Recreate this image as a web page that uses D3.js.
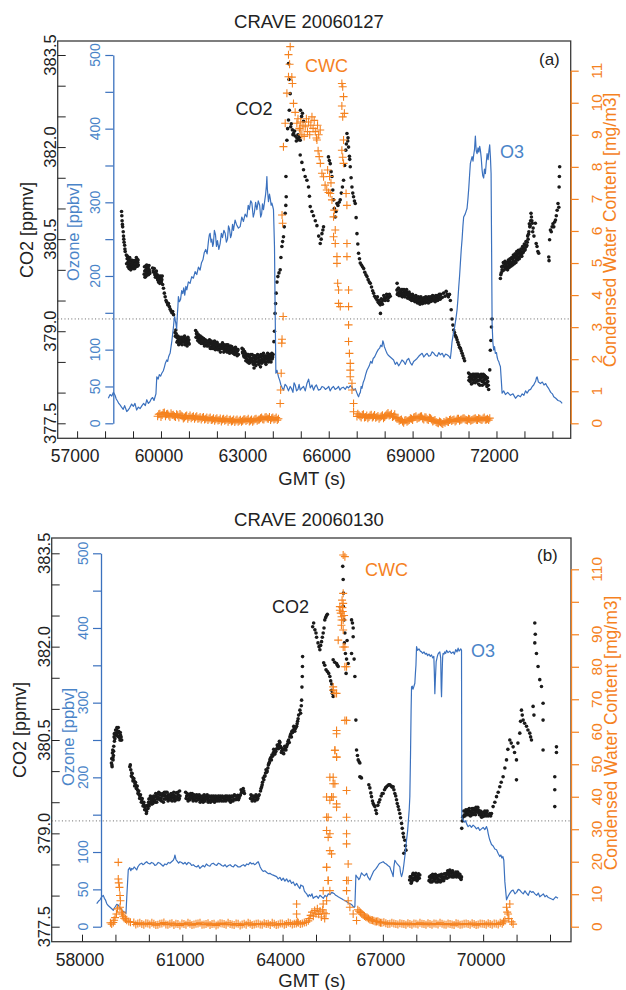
<!DOCTYPE html>
<html>
<head>
<meta charset="utf-8">
<script src="https://cdn.jsdelivr.net/npm/d3@7"></script>
<style>
  body { margin: 0; background: #fff; }
  svg text { font-family: "Liberation Sans", Arial, Helvetica, sans-serif; }
</style>
</head>
<body>
<div class="canvas"></div>
<script>
// ---------- data (time in GMT seconds) ----------
// flight 20060127 : CO2 [ppmv]
const co2A = [
 [58590,380.95],[58600,380.88],[58610,380.8],[58620,380.74],[58630,380.7],[58650,380.62],[58660,380.55],[58670,380.5],[58680,380.45],[58700,380.4],[58710,380.34],[58720,380.3],
 [58760,380.24],[58790,380.18],[58810,380.12],[58830,380.2],[58850,380.08],[58870,380.14],[58890,380.06],[58910,380.1],[58930,380.03],[58950,380.12],[58970,380.05],[58990,380.09],[59010,380.02],[59030,380.1],[59050,380.06],[59070,380.13],[59090,380.08],[59110,380.15],[59130,380.1],[59150,380.17],[59170,380.12],[59190,380.08],
 [59400,379.93],[59420,379.98],[59440,379.9],[59460,380.0],[59480,379.95],[59500,380.02],[59520,379.97],[59540,380.04],[59560,379.99],[59580,380.0],[59600,379.94],
 [59700,380.03],[59740,379.96],[59780,379.92],[59820,379.95],[59850,379.88],[59880,379.84],[59910,379.8],[59940,379.86],[59970,379.82],[60000,379.88],[60030,379.84],[60060,379.76],[60090,379.7],[60120,379.62],[60150,379.56],[60180,379.5],[60210,379.47],[60240,379.43],[60270,379.45],[60300,379.4],[60330,379.36],[60360,379.33],[60390,379.3],[60420,379.32],[60450,379.27],
 [60500,378.98],[60530,379.02],[60560,378.9],[60590,378.84],[60620,378.88],[60650,378.82],[60680,378.86],[60710,378.8],[60740,378.85],[60770,378.83],[60800,378.88],[60830,378.82],[60860,378.78],[60890,378.84],[60920,378.8],[60950,378.86],[60980,378.82],[61010,378.79],
 [61240,379.01],[61270,378.96],[61300,378.92],[61330,378.88],[61360,378.9],[61390,378.85],[61420,378.87],[61450,378.83],[61480,378.86],[61510,378.8],[61540,378.84],[61570,378.82],[61600,378.78],[61630,378.83],[61660,378.8],[61690,378.76],[61720,378.82],[61750,378.79],[61780,378.74],[61810,378.8],[61840,378.77],[61870,378.72],[61900,378.79],[61930,378.75],[61960,378.8],[61990,378.73],[62020,378.78],[62050,378.74],[62080,378.7],[62110,378.77],[62140,378.72],[62170,378.76],[62200,378.81],[62230,378.74],[62260,378.7],[62290,378.76],[62320,378.72],[62350,378.78],[62380,378.7],[62410,378.74],[62440,378.68],[62470,378.73],[62500,378.69],[62530,378.75],[62560,378.7],[62590,378.66],[62620,378.72],[62650,378.67],[62680,378.7],[62710,378.64],[62740,378.68],[62770,378.62],
 [62900,378.72],[62930,378.64],[62960,378.6],[62990,378.67],[63020,378.57],[63050,378.63],[63080,378.55],[63110,378.6],[63140,378.52],[63170,378.58],[63200,378.5],[63230,378.56],[63260,378.62],[63290,378.52],[63320,378.58],[63350,378.48],[63380,378.55],[63410,378.6],[63440,378.5],[63470,378.56],[63500,378.46],[63530,378.53],[63560,378.58],[63590,378.5],[63620,378.55],[63650,378.6],[63680,378.53],[63710,378.57],[63740,378.5],[63770,378.55],[63800,378.6],[63830,378.52],[63860,378.57],[63890,378.62],[63920,378.56],[63950,378.6],[63980,378.55],[64010,378.62],
 [64040,378.83],[64060,379.0],[64080,379.29],[64100,379.45],[64120,379.62],[64150,379.8],[64181,379.89],[64220,379.95],[64264,380.0],[64290,380.2],[64325,380.38],[64350,380.46],[64382,380.54],[64410,380.7],[64443,380.92],[64465,381.05],[64479,381.19],[64470,381.52],[64504,382.11],[64530,382.3],[64561,382.44],[64590,382.6],[64622,382.87],[64580,383.1],[64561,383.36],[64640,382.33],[64700,382.28],[64740,382.22],[64800,382.18],[64860,382.15],[64920,382.12],[64980,382.11],[64990,382.6],[65030,382.5],[65060,382.55],[65100,382.42],
 [64980,381.87],[65040,381.75],[65098,381.63],[65157,381.52],[65220,381.46],[65277,381.35],[65310,381.2],[65338,381.03],[65400,380.95],[65456,380.88],[65520,380.8],[65578,380.72],[65640,380.55],[65696,380.43],[65730,380.5],[65757,380.59],[65790,380.65],[65814,380.7],
 [65990,381.84],[66020,381.78],[66054,381.73],[66085,381.6],[66115,381.52],[66145,381.3],[66172,381.14],[66200,381.0],[66233,380.86],[66260,380.95],[66294,381.08],[66330,381.05],[66370,381.1],[66412,381.14],[66450,381.25],[66490,381.35],[66530,381.46],[66570,381.7],[66610,381.95],[66652,382.22],[66680,382.1],[66709,382.0],[66740,381.85],[66770,381.68],[66800,381.5],[66831,381.35],[66860,381.25],[66888,381.19],[66920,381.12],[66949,381.08],[66980,380.85],[67010,380.59],[67040,380.42],[67067,380.27],[67100,380.18],[67128,380.11],[67170,380.08],[67210,380.05],[67250,380.02],[67290,379.96],[67330,379.92],[67368,379.89],[67410,379.84],[67450,379.8],[67486,379.78],[67530,379.72],[67570,379.66],[67604,379.62],[67640,379.57],[67680,379.54],[67726,379.51],[67770,379.47],[67810,379.45],[67844,379.43],[67850,379.29],[67900,379.48],[67950,379.51],[68000,379.55],[68050,379.54],[68100,379.56],[68150,379.55],[68200,379.57],
 [68440,379.67],[68470,379.62],[68500,379.7],[68530,379.64],[68560,379.6],[68590,379.66],[68620,379.62],[68650,379.68],[68680,379.63],[68710,379.58],[68740,379.65],[68770,379.6],[68800,379.64],[68830,379.58],[68860,379.62],[68890,379.56],[68920,379.6],[68950,379.55],[68980,379.58],[69010,379.53],[69040,379.57],[69070,379.52],[69100,379.56],[69130,379.5],[69160,379.55],[69190,379.49],[69220,379.53],[69250,379.48],[69280,379.54],[69310,379.5],[69340,379.47],[69370,379.52],[69400,379.48],[69430,379.55],[69460,379.5],[69490,379.53],[69520,379.47],[69550,379.52],[69580,379.56],[69610,379.5],[69640,379.54],[69670,379.49],[69700,379.55],[69730,379.51],[69760,379.57],[69790,379.52],[69820,379.55],[69850,379.5],[69880,379.54],[69910,379.58],[69940,379.52],[69970,379.55],[70010,379.6],[70060,379.55],[70110,379.62],[70160,379.57],
 [70200,379.65],[70240,379.6],[70280,379.56],[70320,379.6],[70350,379.5],[70380,379.35],[70410,379.2],[70440,379.1],[70470,379.02],[70500,378.98],[70530,378.93],[70560,378.9],[70590,378.86],[70620,378.82],[70650,378.78],[70680,378.74],[70710,378.72],[70740,378.68],[70770,378.64],[70800,378.6],[70830,378.56],[70860,378.52],
 [71000,378.32],[71030,378.25],[71060,378.18],[71090,378.28],[71120,378.22],[71150,378.3],[71180,378.2],[71210,378.26],[71240,378.16],[71270,378.24],[71300,378.3],[71330,378.2],[71360,378.14],[71390,378.26],[71420,378.22],[71450,378.3],[71480,378.18],[71510,378.25],[71540,378.2],[71570,378.28],[71600,378.14],[71630,378.22],[71660,378.1],[71690,378.18],[71720,378.05],
 [71760,378.37],[71780,378.69],[71800,378.85],[71820,379.07],[71840,379.2],
 [72140,379.86],[72170,379.95],[72200,380.0],[72230,380.06],[72260,380.11],[72290,380.05],[72320,380.1],[72350,380.08],[72380,380.04],[72410,380.12],[72440,380.08],[72470,380.14],[72500,380.1],[72530,380.18],[72560,380.12],[72590,380.16],[72620,380.2],[72650,380.14],[72680,380.22],[72710,380.18],[72740,380.25],[72770,380.2],[72800,380.27],[72830,380.22],[72860,380.3],[72890,380.26],[72920,380.34],[72950,380.28],[72980,380.36],[73010,380.32],[73040,380.4],[73070,380.38],[73100,380.45],[73130,380.5],[73160,380.62],[73190,380.7],[73220,380.8],[73250,380.86],[73280,380.76],[73310,380.68],[73340,380.55],
 [73390,380.76],[73420,380.43],[73450,380.38],[73480,380.3],[73510,380.27],
 [73870,380.21],[73880,380.15],[73900,380.49],[73930,380.65],[73960,380.62],[73990,380.7],[74020,380.75],[74050,380.7],[74080,380.78],[74110,380.81],[74140,380.88],[74170,380.97],[74200,381.08],[74230,381.02],[74240,381.35],[74250,381.52],[74260,381.68]
];
// second layer of CO2 samples inside the dense clusters (20060127)
const co2AExtra = [
 [58770,380.1],[58800,380.22],[58820,380.05],[58840,380.16],[58860,380.02],[58880,380.2],[58900,380.13],[58920,380.0],[58940,380.16],[58960,380.08],[58980,380.15],[59000,380.12],[59020,380.06],[59040,380.15],[59060,380.02],[59080,380.1],[59100,380.05],[59120,380.2],[59140,380.14],[59160,380.06],[59180,380.16],
 [59410,380.05],[59430,379.88],[59450,380.06],[59470,379.9],[59490,380.08],[59510,379.92],[59530,380.0],[59550,379.92],[59570,380.07],[59590,379.96],
 [59720,379.98],[59760,380.02],[59800,379.88],[59835,379.98],[59865,379.92],[59895,379.86],[59925,379.9],[59955,379.78],[59985,379.9],[60015,379.8],[60045,379.9],
 [60515,378.92],[60545,378.96],[60575,378.82],[60605,378.92],[60635,378.78],[60665,378.9],[60695,378.84],[60725,378.9],[60755,378.78],[60785,378.9],[60815,378.86],[60845,378.92],[60875,378.8],[60905,378.88],[60935,378.76],[60965,378.9],[60995,378.86],
 [61255,378.9],[61285,378.98],[61315,378.85],[61345,378.94],[61375,378.82],[61405,378.92],[61435,378.8],[61465,378.9],[61495,378.84],[61525,378.88],[61555,378.76],[61585,378.86],[61615,378.84],[61645,378.76],[61675,378.84],[61705,378.78],[61735,378.86],[61765,378.72],[61795,378.84],[61825,378.72],[61855,378.82],[61885,378.74],[61915,378.84],[61945,378.7],[61975,378.78],[62005,378.82],[62035,378.7],[62065,378.78],[62095,378.74],[62125,378.66],[62155,378.78],[62185,378.72],[62215,378.76],[62245,378.66],[62275,378.78],[62305,378.68],[62335,378.74],[62365,378.66],[62395,378.78],[62425,378.72],[62455,378.64],[62485,378.76],[62515,378.66],[62545,378.72],[62575,378.64],[62605,378.7],[62635,378.62],[62665,378.74],[62695,378.68],[62725,378.6],[62755,378.7],
 [62915,378.66],[62945,378.7],[62975,378.58],[63005,378.64],[63035,378.52],[63065,378.6],[63095,378.5],[63125,378.62],[63155,378.48],[63185,378.54],[63215,378.62],[63245,378.5],[63275,378.56],[63305,378.46],[63330,378.4],[63335,378.6],[63365,378.52],[63395,378.44],[63425,378.56],[63455,378.62],[63485,378.5],[63515,378.6],[63545,378.5],[63560,378.42],[63575,378.62],[63605,378.48],[63635,378.52],[63665,378.64],[63695,378.5],[63725,378.6],[63755,378.46],[63785,378.58],[63815,378.64],[63845,378.5],[63875,378.54],[63905,378.6],[63935,378.5],[63965,378.64],[63995,378.58],
 [64660,382.38],[64720,382.2],[64780,382.26],[64840,382.1],[64900,382.2],[64950,382.16],[66630,382.05],[66690,382.15],[66750,381.8],
 [67740,379.56],[67790,379.5],[67830,379.48],[67880,379.53],[67920,379.44],[67970,379.58],[68020,379.5],[68070,379.6],[68120,379.5],[68170,379.6],
 [68445,379.78],[68455,379.6],[68485,379.7],[68515,379.58],[68545,379.66],[68575,379.58],[68605,379.68],[68635,379.56],[68665,379.6],[68695,379.68],[68725,379.56],[68755,379.6],[68785,379.68],[68815,379.54],[68845,379.6],[68875,379.64],[68905,379.52],[68935,379.58],[68965,379.5],[68995,379.6],[69025,379.5],[69055,379.56],[69085,379.48],[69115,379.58],[69145,379.52],[69175,379.46],[69205,379.56],[69235,379.5],[69265,379.44],[69295,379.56],[69325,379.52],[69355,379.45],[69385,379.54],[69415,379.5],[69445,379.46],[69475,379.56],[69505,379.5],[69535,379.55],[69565,379.46],[69595,379.54],[69625,379.48],[69655,379.56],[69685,379.5],[69715,379.58],[69745,379.5],[69775,379.54],[69805,379.48],[69835,379.58],[69865,379.52],[69895,379.5],[69925,379.56],[69955,379.6],[69985,379.52],
 [71015,378.2],[71045,378.3],[71075,378.22],[71105,378.14],[71135,378.26],[71165,378.16],[71195,378.3],[71225,378.22],[71255,378.3],[71285,378.18],[71315,378.26],[71345,378.3],[71375,378.2],[71405,378.12],[71435,378.24],[71465,378.26],[71495,378.12],[71525,378.3],[71555,378.16],[71585,378.22],[71615,378.26],[71645,378.16],[71675,378.24],[71705,378.12],
 [72155,379.92],[72185,380.05],[72215,379.98],[72245,380.12],[72275,380.0],[72305,380.14],[72335,380.02],[72365,380.12],[72395,380.0],[72425,380.16],[72455,380.04],[72485,380.18],[72515,380.06],[72545,380.2],[72575,380.08],[72605,380.24],[72635,380.1],[72665,380.26],[72695,380.12],[72725,380.3],[72755,380.16],[72785,380.32],[72815,380.18],[72845,380.24],[72875,380.34],[72905,380.22],[72935,380.38],[72965,380.3],[72995,380.42],[73025,380.34],[73055,380.46],[73085,380.4],[73115,380.55],[73145,380.58],[73175,380.75],[73205,380.72],[73235,380.92],[73265,380.8],[73295,380.62]
];
// flight 20060127 : ozone [ppbv]
const o3A = [
 [58117,34],[58180,39],[58240,37],[58300,42],[58357,38],[58400,33],[58450,30],[58490,27],[58536,25],[58590,22],[58650,19],[58700,24],[58776,16],[58830,18],[58880,21],[58950,26],[59012,23],[59070,27],[59130,18],[59190,22],[59252,20],[59320,24],[59380,27],[59440,24],[59492,32],[59550,27],[59600,29],[59650,33],[59700,35],[59750,31],[59789,36],[59820,40],[59850,63],[59900,60],[59940,66],[59985,64],[60029,68],[60080,71],[60120,76],[60160,82],[60208,86],[60240,84],[60270,90],[60300,93],[60326,95],[60360,104],[60390,112],[60420,122],[60444,130],[60470,141],[60490,145],[60510,140],[60530,136],[60560,128],[60590,150],[60605,158],[60623,172],[60660,165],[60700,168],[60740,180],[60780,176],[60815,184],[60850,174],[60890,186],[60924,181],[60980,192],[61040,190],[61100,199],[61160,197],[61220,206],[61280,202],[61340,212],[61400,208],[61450,218],[61500,222],[61550,232],[61600,236],[61650,230],[61700,248],[61730,256],[61758,258],[61790,246],[61820,250],[61850,240],[61876,244],[61910,262],[61950,256],[61985,240],[62020,248],[62070,236],[62116,244],[62160,258],[62200,252],[62250,262],[62295,258],[62340,246],[62380,250],[62415,268],[62450,264],[62490,252],[62520,256],[62560,270],[62592,262],[62650,276],[62700,270],[62770,265],[62832,267],[62890,280],[62950,274],[63010,284],[63072,280],[63120,296],[63160,290],[63210,302],[63251,299],[63300,280],[63340,286],[63385,300],[63430,290],[63480,302],[63530,296],[63565,280],[63600,284],[63630,298],[63666,290],[63710,302],[63740,310],[63770,322],[63788,335],[63805,318],[63820,312],[63845,301],[63880,311],[63910,305],[63940,296],[63967,299],[64000,294],[64024,290],[64060,240],[64085,149],[64110,68],[64150,72],[64203,63],[64250,58],[64290,52],[64340,48],[64382,45],[64440,53],[64500,50],[64560,44],[64622,50],[64670,47],[64720,42],[64760,55],[64800,52],[64850,44],[64900,46],[64940,53],[64980,45],[65040,48],[65100,50],[65160,44],[65220,54],[65280,60],[65340,48],[65400,52],[65456,45],[65510,50],[65560,52],[65630,45],[65700,46],[65760,50],[65820,49],[65880,46],[65936,47.5],[66000,50],[66050,44],[66110,48],[66170,50],[66230,46],[66294,47.5],[66350,50],[66400,45],[66460,48],[66520,49],[66590,46],[66652,50],[66710,48],[66770,51],[66830,49],[66888,45],[66950,47],[67010,41],[67040,38],[67067,36],[67100,40],[67130,42],[67160,50],[67189,47.5],[67230,55],[67280,60],[67320,66],[67368,72],[67410,75],[67450,78],[67500,84],[67547,81.5],[67590,88],[67640,90],[67690,94],[67726,97],[67770,100],[67820,102],[67860,106],[67905,104],[67935,112],[67962,109],[67990,104],[68020,101],[68050,98],[68084,95],[68140,92],[68200,90],[68260,88],[68320,86],[68380,80],[68440,83],[68500,78],[68560,81.5],[68620,86],[68680,84],[68740,80],[68800,86],[68860,88],[68920,82],[68980,79],[69036,84],[69100,86],[69160,88],[69220,91],[69276,93],[69340,95],[69400,90],[69460,93],[69516,95],[69580,91],[69640,92],[69700,97],[69760,95],[69820,92],[69880,91],[69940,96],[69992,93],[70060,95],[70120,90],[70180,94],[70232,93],[70300,91],[70350,88],[70380,98],[70411,111],[70460,122],[70500,130],[70550,142],[70590,154],[70620,168],[70650,185],[70680,200],[70708,217],[70740,236],[70770,250],[70800,268],[70826,280],[70880,284],[70948,292],[70980,305],[71010,320],[71040,338],[71066,353],[71100,358],[71127,362],[71160,356],[71184,364],[71215,372],[71245,390],[71275,370],[71306,366],[71340,374],[71370,368],[71400,376],[71424,371],[71455,360],[71485,344],[71510,336],[71542,333],[71570,345],[71603,339],[71630,352],[71664,366],[71700,358],[71730,370],[71757,378],[71785,360],[71807,339],[71825,240],[71843,136],[71870,110],[71900,99.5],[71930,104],[71960,95],[72000,96],[72022,90],[72050,86],[72080,84],[72110,80],[72140,77],[72170,60],[72201,41],[72260,44],[72320,39],[72400,42],[72498,38],[72590,40],[72680,34],[72770,38],[72856,36],[72920,40],[72980,38],[73040,44],[73096,41],[73160,45],[73220,46],[73280,50],[73332,52],[73370,55],[73400,57],[73430,62],[73454,63],[73500,56],[73572,54],[73640,56],[73700,52],[73760,54],[73812,50],[73870,47],[73940,42],[74000,40],[74048,36],[74120,34],[74200,31],[74280,30],[74349,27]
];
// flight 20060127 : condensed water content [mg/m3]
const cwcA = [
 [59880,0.22],[59960,0.3],[60040,0.26],[60120,0.34],[60200,0.28],[60280,0.24],[60360,0.31],[60440,0.27],[60520,0.2],[60600,0.25],[60680,0.29],[60760,0.22],[60840,0.18],[60920,0.24],[61000,0.2],[61080,0.16],[61160,0.22],[61240,0.19],[61320,0.14],[61400,0.2],[61480,0.17],[61560,0.12],[61640,0.18],[61720,0.15],[61800,0.1],[61880,0.16],[61960,0.13],[62040,0.09],[62120,0.15],[62200,0.12],[62280,0.08],[62360,0.14],[62440,0.1],[62520,0.06],[62600,0.12],[62680,0.09],[62760,0.05],[62840,0.11],[62920,0.08],[63000,0.13],[63080,0.1],[63160,0.06],[63240,0.12],[63320,0.09],[63400,0.14],[63480,0.11],[63560,0.16],[63640,0.13],[63720,0.18],[63800,0.15],[63880,0.2],[63960,0.16],[64040,0.12],[64120,0.18],[64200,0.14],
 [64264,0.62],[64280,1.04],[64300,1.56],[64320,2.5],[64330,2.62],[64370,3.33],[64330,6.5],[64350,6.24],[64380,8.63],[64443,9.36],[64504,10.3],[64561,10.81],[64622,11.75],[64561,11.5],[64600,11.2],[64680,10.8],[64700,10.6],[64740,9.98],[64800,9.7],[64860,9.36],[64900,9.5],[64950,9.2],[64980,9.15],[65000,9.4],[65040,9.0],[65080,9.3],[65120,8.95],[65160,9.25],[65200,9.5],[65240,9.1],[65280,9.4],[65320,9.0],[65360,9.3],[65400,9.56],[65440,9.2],[65480,9.45],[65520,9.1],[65560,8.9],[65600,9.3],[65640,9.0],[65696,9.15],[65578,8.84],[65620,8.5],[65660,8.32],[65700,8.11],[65757,7.8],[65814,7.69],[65870,7.43],[65930,7.28],[65993,7.2],[66054,7.17],[66115,6.97],[66080,7.5],[66030,7.7],[65960,7.9],[66172,6.44],[66200,6.65],[66233,6.03],[66172,5.82],[66233,5.61],[66294,5.2],[66294,4.99],[66320,4.37],[66351,4.16],[66351,3.74],[66412,3.64],
 [66470,10.6],[66500,10.5],[66530,10.19],[66470,9.9],[66500,9.56],[66560,9.67],[66530,8.84],[66470,8.52],[66530,8.11],[66500,8.3],[66620,7.17],[66650,6.8],[66652,5.61],[66652,5.2],[66709,4.16],[66709,3.64],[66709,3.07],[66709,2.55],[66740,2.18],[66770,1.87],[66770,1.66],[66770,1.45],[66831,1.25],[66831,1.04],[66888,0.62],[66888,0.36],[67010,0.21],
 [67040,0.3],[67120,0.22],[67200,0.26],[67280,0.18],[67360,0.24],[67440,0.2],[67520,0.27],[67600,0.21],[67680,0.17],[67760,0.23],[67840,0.19],[67920,0.25],[68000,0.2],[68080,0.28],[68160,0.24],[68240,0.3],[68320,0.22],[68400,0.18],[68480,0.14],[68560,0.1],[68640,0.06],[68720,0.09],[68800,0.05],[68880,0.1],[68960,0.14],[69040,0.18],[69120,0.22],[69200,0.17],[69280,0.21],[69360,0.15],[69440,0.19],[69520,0.13],[69600,0.17],[69680,0.12],[69760,0.08],[69840,0.04],[69920,0.0],[70000,0.03],[70080,-0.02],[70160,0.02],[70240,0.06],[70320,0.1],[70400,0.07],[70480,0.12],[70560,0.09],[70640,0.14],[70720,0.11],[70800,0.15],[70880,0.12],[70960,0.09],[71040,0.13],[71120,0.1],[71200,0.14],[71280,0.11],[71360,0.16],[71440,0.12],[71520,0.15],[71600,0.11],[71680,0.14],[71760,0.16]
];
const cwcAExtra = [
 [59920,0.28],[60000,0.2],[60080,0.32],[60160,0.22],[60240,0.3],[60320,0.2],[60400,0.26],[60480,0.22],[60560,0.28],[60640,0.18],[60720,0.24],[60800,0.15],[60880,0.22],[60960,0.14],[61040,0.24],[61120,0.2],[61200,0.14],[61280,0.22],[61360,0.16],[61440,0.12],[61520,0.2],[61600,0.14],[61680,0.1],[61760,0.18],[61840,0.12],[61920,0.08],[62000,0.16],[62080,0.1],[62160,0.06],[62240,0.14],[62320,0.1],[62400,0.05],[62480,0.12],[62560,0.08],[62640,0.04],[62720,0.12],[62800,0.08],[62880,0.05],[62960,0.12],[63040,0.07],[63120,0.14],[63200,0.09],[63280,0.05],[63360,0.13],[63440,0.08],[63520,0.12],[63600,0.18],[63680,0.12],[63760,0.2],[63840,0.14],[63920,0.1],[64000,0.18],[64080,0.14],[64160,0.1],
 [67080,0.26],[67160,0.18],[67240,0.28],[67320,0.2],[67400,0.16],[67480,0.24],[67560,0.18],[67640,0.26],[67720,0.2],[67800,0.14],[67880,0.22],[67960,0.16],[68040,0.24],[68120,0.32],[68200,0.26],[68280,0.2],[68360,0.28],[68440,0.14],[68520,0.08],[68600,0.12],[68680,0.02],[68760,0.1],[68840,0.08],[68920,0.16],[69000,0.1],[69080,0.2],[69160,0.14],[69240,0.18],[69320,0.22],[69400,0.12],[69480,0.18],[69560,0.1],[69640,0.16],[69720,0.06],[69800,0.1],[69880,0.02],[69960,0.06],[70040,0.0],[70120,0.04],[70200,0.08],[70280,0.04],[70360,0.12],[70440,0.1],[70520,0.06],[70600,0.14],[70680,0.08],[70760,0.12],[70840,0.16],[70920,0.1],[71000,0.14],[71080,0.08],[71160,0.12],[71240,0.16],[71320,0.1],[71400,0.14],[71480,0.1],[71560,0.18],[71640,0.12],[71720,0.1]
];

// flight 20060130 : CO2 [ppmv]
const co2B = [
 [58880,380.13],[58890,380.2],[58900,380.07],[58910,380.29],[58920,380.34],[58930,380.18],[58940,380.25],[58950,380.4],[58960,380.55],[58970,380.48],[58990,380.61],[59010,380.58],[59030,380.66],[59050,380.6],[59070,380.63],[59085,380.7],[59100,380.56],[59120,380.62],[59136,380.5],[59150,380.58],[59170,380.55],[59187,380.5],
 [59430,380.07],[59460,380.02],[59486,379.97],[59510,379.9],[59534,379.86],[59560,379.84],[59585,379.8],[59610,379.77],[59636,379.75],[59660,379.7],[59683,379.67],[59710,379.62],[59734,379.59],[59760,379.56],[59785,379.54],[59810,379.5],[59833,379.48],[59860,379.45],[59884,379.42],[59910,379.38],[59935,379.35],[59960,379.45],[59990,379.5],[60010,379.44],[60033,379.56],[60060,379.5],[60090,379.47],[60110,379.55],[60132,379.52],[60160,379.58],[60190,379.5],[60220,379.6],[60250,379.55],[60280,379.63],[60310,379.57],[60332,379.62],[60360,379.56],[60390,379.6],[60420,379.64],[60450,379.55],[60480,379.61],[60510,379.66],[60533,379.6],[60560,379.55],[60590,379.62],[60620,379.58],[60650,379.54],[60680,379.6],[60710,379.57],[60730,379.62],[60760,379.55],[60790,379.6],[60820,379.65],[60850,379.58],[60880,379.62],[60910,379.56],[60930,379.6],
 [61100,379.66],[61131,379.6],[61160,379.55],[61190,379.62],[61220,379.58],[61250,379.64],[61280,379.6],[61310,379.56],[61340,379.6],[61370,379.54],[61400,379.58],[61430,379.62],[61460,379.56],[61490,379.6],[61520,379.55],[61550,379.59],[61580,379.53],[61610,379.57],[61640,379.54],[61670,379.58],[61700,379.55],[61730,379.6],[61760,379.56],[61790,379.53],[61827,379.58],[61860,379.54],[61890,379.57],[61920,379.52],[61950,379.56],[61980,379.53],[62028,379.57],[62060,379.55],[62090,379.59],[62120,379.54],[62150,379.58],[62180,379.52],[62225,379.57],[62260,379.55],[62290,379.6],[62320,379.54],[62360,379.58],[62400,379.53],[62425,379.57],[62460,379.54],[62500,379.59],[62540,379.55],[62580,379.6],[62626,379.56],[62660,379.61],[62700,379.57],[62740,379.62],[62775,379.66],[62823,379.72],[62860,379.64],
 [63040,379.56],[63074,379.6],[63110,379.55],[63150,379.58],[63190,379.54],[63224,379.59],[63260,379.56],[63300,379.62],[63340,379.68],[63374,379.75],[63400,379.82],[63421,379.89],[63460,379.92],[63490,379.97],[63523,379.98],[63560,380.05],[63590,380.12],[63621,380.18],[63650,380.22],[63680,380.26],[63720,380.29],[63750,380.32],[63780,380.3],[63822,380.36],[63860,380.4],[63890,380.43],[63920,380.46],[63950,380.38],[63980,380.33],[64019,380.29],[64050,380.34],[64080,380.37],[64120,380.39],[64150,380.44],[64180,380.5],[64219,380.55],[64250,380.6],[64280,380.64],[64318,380.66],[64350,380.7],[64380,380.68],[64420,380.72],[64450,380.8],[64480,380.9],[64518,380.98],[64540,380.93],[64560,381.05],[64569,381.14],[64580,381.35],[64590,381.52],[64595,381.68],[64599,381.84],
 [64900,382.32],[64930,382.38],[64967,382.27],[65000,382.22],[65018,382.15],[65060,382.06],[65090,382.0],[65116,381.95],[65140,382.02],[65167,382.08],[65190,382.15],[65215,382.22],[65240,382.3],[65263,382.43],[65290,382.47],[65317,382.5],[65340,382.52],[65230,381.74],[65263,381.7],[65300,381.63],[65340,381.6],[65380,381.57],[65415,381.52],[65440,381.45],[65466,381.3],[65490,381.25],[65514,381.2],[65470,381.4],[65514,381.79],[65560,381.75],[65615,381.73],[65640,381.7],[65664,381.68],
 [65800,383.29],[65813,383.08],[65820,382.86],[65813,382.65],[65840,382.43],[65864,382.22],[65850,382.06],[65880,381.89],[65914,381.8],[65962,381.73],[65900,381.57],[65930,382.1],
 [66064,382.43],[66090,382.38],[66112,382.3],[66112,382.16],[66064,381.89],[66140,381.8],[66163,381.52],
 [66193,380.82],[66213,380.34],[66240,380.25],[66262,380.18],[66290,380.15],[66312,380.13],[66312,379.91],[66340,379.9],[66361,379.89],
 [66580,379.78],[66611,379.73],[66640,379.65],[66661,379.59],[66690,379.52],[66711,379.48],[66740,379.45],[66761,379.43],[66790,379.37],[66811,379.32],[66850,379.45],[66880,379.5],[66910,379.54],[66950,379.6],[66980,379.64],[67009,379.64],[67050,379.7],[67080,379.73],[67109,379.75],[67150,379.77],[67180,379.78],[67209,379.78],[67250,379.76],[67280,379.74],[67308,379.75],[67330,379.7],[67359,379.64],[67385,379.6],[67409,379.54],[67430,379.48],[67458,379.43],[67480,379.38],[67508,379.32],[67530,379.25],[67559,379.16],[67580,379.08],[67607,379.0],[67620,378.94],[67658,378.89],[67675,378.8],[67690,378.73],[67628,378.68],
 [67800,378.25],[67830,378.3],[67860,378.22],[67890,378.33],[67906,378.36],[67940,378.28],[67970,378.32],[68008,378.3],[68040,378.26],[68070,378.35],[68106,378.33],
 [68380,378.24],[68405,378.25],[68440,378.32],[68470,378.22],[68505,378.3],[68540,378.26],[68570,378.34],[68606,378.28],[68640,378.22],[68670,378.31],[68704,378.25],[68740,378.3],[68770,378.24],[68803,378.3],[68840,378.35],[68870,378.3],[68905,378.36],[68940,378.4],[68970,378.33],[69003,378.41],[69040,378.36],[69070,378.3],[69102,378.36],[69140,378.32],[69180,378.38],[69220,378.34],[69251,378.36],[69290,378.31],[69320,378.28],[69353,378.3],
 [69360,379.08],[69380,379.2],[69401,379.27],[69440,379.3],[69470,379.35],[69503,379.32],[69540,379.38],[69570,379.3],[69601,379.35],[69640,379.32],[69670,379.4],[69700,379.33],[69740,379.38],[69770,379.3],[69801,379.38],[69840,379.42],[69870,379.34],[69900,379.33],[69940,379.28],[69970,379.32],[69999,379.27],[70030,379.33],[70070,379.3],[70101,379.33],[70150,379.28],[70200,379.32],[70250,379.32],[70298,379.43],[70350,379.5],[70400,379.59],[70450,379.66],[70498,379.75],[70540,379.82],[70597,379.91],[70650,380.05],[70699,380.18],[70740,380.35],[70797,380.5],[70840,380.45],[70896,380.39],[70940,380.3],[70997,380.18],[70997,379.86],[71040,380.45],[71096,380.61],[71120,380.8],[71147,380.98],[71170,380.9],[71196,380.82],[71240,380.77],[71297,380.72],[71340,380.66],[71395,380.61],[71420,380.55],[71446,380.5],[71494,381.04],[71520,380.9],[71545,382.38],[71560,382.2],[71545,382.06],[71595,381.89],[71643,381.68],[71694,381.47],[71745,381.36],[71793,381.09],[71793,380.82],[71793,380.34],
 [72143,379.91],[72143,379.7],[72143,379.43],[72193,380.39],[72193,380.3]
];
const co2BExtra = [
 [58895,380.1],[58925,380.22],[58945,380.32],[58965,380.6],[58985,380.52],[59005,380.66],[59025,380.6],[59045,380.7],[59065,380.56],[59095,380.64],[59115,380.54],[59145,380.62],[59165,380.5],
 [59445,380.1],[59475,379.92],[59500,379.96],[59525,379.84],[59550,379.88],[59575,379.76],[59600,379.82],[59625,379.72],[59650,379.76],[59675,379.64],[59700,379.68],[59725,379.56],[59750,379.62],[59775,379.5],[59800,379.56],[59825,379.44],[59850,379.5],[59875,379.38],[59900,379.44],[59925,379.32],
 [59975,379.4],[60000,379.55],[60020,379.48],[60045,379.6],[60075,379.52],[60100,379.58],[60120,379.48],[60145,379.6],[60175,379.54],[60205,379.64],[60235,379.5],[60265,379.58],[60295,379.66],[60325,379.54],[60345,379.64],[60375,379.52],[60405,379.6],[60435,379.5],[60465,379.66],[60495,379.55],[60520,379.58],[60545,379.66],[60575,379.52],[60605,379.6],[60635,379.54],[60665,379.64],[60695,379.52],[60720,379.6],[60745,379.66],[60775,379.52],[60805,379.58],[60835,379.54],[60865,379.66],[60895,379.54],[60920,379.68],
 [61115,379.56],[61145,379.64],[61175,379.52],[61205,379.62],[61235,379.54],[61265,379.58],[61295,379.64],[61325,379.52],[61355,379.62],[61385,379.58],[61415,379.52],[61445,379.6],[61475,379.54],[61505,379.62],[61535,379.5],[61565,379.58],[61595,379.6],[61625,379.5],[61655,379.62],[61685,379.52],[61715,379.56],[61745,379.62],[61775,379.5],[61810,379.6],[61845,379.5],[61875,379.6],[61905,379.56],[61935,379.6],[61965,379.5],[62000,379.6],[62045,379.52],[62075,379.6],[62105,379.52],[62135,379.6],[62165,379.56],[62200,379.6],[62240,379.52],[62275,379.58],[62305,379.52],[62340,379.6],[62380,379.56],[62410,379.6],[62445,379.5],[62480,379.6],[62520,379.52],[62560,379.62],[62600,379.54],[62640,379.6],[62680,379.54],[62720,379.6],[62760,379.7],[62800,379.66],[62840,379.68],
 [63055,379.62],[63090,379.52],[63130,379.6],[63170,379.52],[63205,379.62],[63240,379.54],[63280,379.6],
 [63355,379.72],[63390,379.78],[63440,379.86],[63475,379.92],[63505,380.02],[63540,380.0],[63575,380.1],[63605,380.14],[63635,380.2],[63665,380.18],[63700,380.24],[63735,380.35],[63765,380.27],[63800,380.32],[63840,380.42],[63875,380.36],[63905,380.48],[63935,380.4],[63965,380.3],[64000,380.36],[64035,380.28],[64065,380.4],[64100,380.34],[64135,380.42],[64165,380.48],[64200,380.46],[64235,380.58],[64265,380.55],[64300,380.62],[64335,380.72],[64365,380.64],[64400,380.7],[64435,380.76],[64465,380.84],
 [67815,378.3],[67845,378.2],[67875,378.28],[67900,378.25],[67925,378.34],[67955,378.26],[67985,378.36],[68020,378.24],[68055,378.32],[68090,378.28],
 [68395,378.3],[68425,378.22],[68455,378.28],[68490,378.34],[68520,378.24],[68555,378.3],[68590,378.22],[68620,378.32],[68655,378.26],[68690,378.33],[68720,378.22],[68755,378.34],[68785,378.28],[68820,378.24],[68855,378.28],[68890,378.34],[68920,378.28],[68955,378.36],[68985,378.3],[69020,378.38],[69055,378.32],[69085,378.4],[69120,378.3],[69160,378.34],[69200,378.3],[69235,378.38],[69270,378.3],[69305,378.34],[69340,378.26],
 [69390,379.26],[69420,379.36],[69455,379.28],[69485,379.38],[69520,379.3],[69555,379.34],[69585,379.4],[69620,379.28],[69655,379.36],[69685,379.3],[69720,379.4],[69755,379.34],[69785,379.42],[69820,379.34],[69855,379.38],[69885,379.3],[69920,379.36],[69955,379.26],[69985,379.34],[70015,379.28],[70050,379.36],[70085,379.28],[70120,379.36],[70175,379.3],[70225,379.28]
];
// flight 20060130 : ozone [ppbv]
const o3B = [
 [58440,31],[58490,34],[58538,36],[58590,40],[58637,42],[58670,38],[58700,36],[58739,31],[58790,28],[58840,26],[58890,24],[58936,22],[58970,25],[59000,27],[59040,30],[59085,29],[59110,27],[59140,25],[59187,23],[59220,21],[59250,20],[59290,19],[59316,18],[59340,40],[59384,76],[59430,79],[59460,75],[59486,78],[59520,77],[59560,80],[59600,78],[59636,76],[59670,80],[59700,82],[59740,84],[59785,85],[59820,83],[59860,84],[59900,86],[59935,87],[59980,85],[60030,84],[60080,86],[60132,85],[60180,82],[60230,83],[60280,86],[60332,85],[60380,83],[60430,81],[60480,84],[60533,83],[60580,86],[60630,85],[60680,87],[60730,89],[60760,92],[60781,96],[60810,90],[60840,88],[60890,85],[60930,87],[60980,86],[61030,84],[61080,86],[61131,83],[61180,86],[61230,85],[61280,82],[61328,83],[61380,81],[61430,80],[61480,82],[61528,78],[61570,80],[61620,82],[61670,80],[61720,84],[61770,82],[61826,81],[61870,84],[61926,85],[61980,83],[62030,82],[62080,85],[62130,84],[62180,82],[62230,81],[62280,83],[62326,80],[62380,82],[62430,83],[62480,81],[62530,80],[62580,83],[62624,82],[62670,80],[62724,80],[62780,82],[62830,83],[62880,81],[62930,84],[62980,83],[63030,86],[63080,84],[63122,85],[63160,83],[63200,84],[63240,86],[63271,87],[63300,84],[63330,80],[63380,76],[63421,74],[63470,75],[63520,73],[63570,71],[63621,71.5],[63670,70],[63720,69],[63770,68],[63822,67],[63870,64],[63920,66],[63970,62],[64019,65],[64070,61],[64120,64],[64170,60],[64219,62.5],[64270,58],[64320,60],[64370,55],[64420,58],[64470,54],[64518,51],[64545,56],[64570,55],[64617,54],[64650,48],[64680,46],[64720,44],[64766,40],[64800,43],[64840,41],[64880,44],[64916,38],[64970,40],[65020,41],[65070,38],[65116,42],[65170,40],[65220,38],[65270,42],[65317,40],[65370,44],[65420,43],[65470,46],[65514,45],[65550,44],[65590,42],[65630,41],[65663,40],[65700,39],[65740,38],[65780,37],[65813,36],[65860,35],[65900,34],[65960,32],[66013,31],[66050,30],[66080,29],[66112,27],[66140,26],[66163,27],[66180,50],[66193,69],[66220,67],[66250,66],[66280,63],[66312,65],[66360,72],[66400,70],[66450,68],[66513,71.5],[66540,68],[66560,66],[66590,64],[66611,62.5],[66640,66],[66680,70],[66720,74],[66761,76],[66800,78],[66830,80],[66870,83],[66910,85],[66960,86],[67009,87],[67060,85],[67100,84],[67150,82],[67209,80],[67240,76],[67260,74],[67290,70],[67308,67],[67330,80],[67359,89],[67400,86],[67430,84],[67470,82],[67508,80],[67530,72],[67559,67],[67580,70],[67607,76],[67630,84],[67660,95],[67690,108],[67709,116],[67740,128],[67760,140],[67790,158],[67807,174],[67828,232],[67845,290],[67858,321],[67880,322],[67900,318],[67930,322],[67957,326],[67975,340],[67990,350],[68008,375],[68040,370],[68080,372],[68120,369],[68157,368],[68190,366],[68230,368],[68270,365],[68307,366],[68340,363],[68380,365],[68420,362],[68456,364],[68490,360],[68525,362],[68540,340],[68555,312],[68570,330],[68580,340],[68595,355],[68606,357],[68630,362],[68650,365],[68680,367],[68704,368],[68730,360],[68745,320],[68755,308],[68768,330],[68780,350],[68790,362],[68803,366],[68830,365],[68850,368],[68880,366],[68905,370],[68950,367],[69000,369],[69050,366],[69102,368],[69140,365],[69180,371],[69220,368],[69251,373],[69280,369],[69300,370],[69330,372],[69353,370],[69362,147],[69380,145],[69401,143],[69430,141],[69450,140],[69480,142],[69503,138],[69550,134],[69600,136],[69650,133],[69700,136],[69750,134],[69800,131],[69850,133],[69900,129],[69950,131],[70000,133],[70050,130],[70101,134],[70130,130],[70150,125],[70175,120],[70199,116],[70250,110],[70300,108],[70350,104],[70400,103],[70450,98],[70498,94],[70530,96],[70560,92],[70590,94],[70618,89],[70650,60],[70699,36],[70750,41],[70800,45],[70850,48],[70896,49],[70950,44],[71000,46],[71050,50],[71096,49],[71150,46],[71200,44],[71250,48],[71297,45],[71350,42],[71400,48],[71450,46],[71494,47],[71550,44],[71600,42],[71650,45],[71694,40],[71750,42],[71800,44],[71850,40],[71895,42],[71950,39],[72000,38],[72050,37],[72092,36],[72170,40],[72241,38]
];
// flight 20060130 : condensed water content [mg/m3]
const cwcB = [
 [58850,1.2],[58888,0.8],[58936,1.3],[58960,2.0],[58990,2.8],[59030,3.9],[59060,5.5],[59085,19.8],[59085,14.7],[59100,13.5],[59120,12.1],[59136,9.6],[59150,8.0],[59136,6.0],[59187,4.5],[59210,3.9],[59235,3.2],[59260,2.6],[59300,2.4],[59337,2.0],[59400,1.6],[59450,1.4],
 [59550,1.3],[59670,1.0],[59790,0.8],[59910,1.1],[60030,0.7],[60150,0.9],[60270,0.6],[60390,1.0],[60510,0.7],[60630,0.9],[60750,0.5],[60870,0.8],[60990,1.0],[61110,0.6],[61230,0.9],[61350,0.7],[61470,1.0],[61590,0.6],[61710,0.8],[61830,0.5],[61950,0.9],[62070,0.7],[62190,1.0],[62310,0.6],[62430,0.8],[62550,0.5],[62670,0.9],[62790,0.7],[62910,0.6],[63030,0.9],[63150,0.7],[63270,1.0],[63390,0.6],[63510,0.8],[63630,0.5],[63750,0.9],[63870,0.7],[63990,1.0],[64110,0.8],[64230,1.1],[64350,0.9],[64470,1.2],[64590,1.0],[64710,1.4],
 [64420,3.9],[64420,7.0],[64440,1.5],
 [64800,2.5],[64840,3.5],[64880,4.5],[64920,3.2],[64960,5.0],[65000,4.0],[65040,5.5],[65080,3.8],[65120,4.8],[65160,3.0],[65200,5.2],[65240,4.2],[65215,7.0],[65317,8.0],[65260,2.5],[65300,4.0],
 [65317,18.3],[65364,14.2],[65364,27.5],[65317,33.7],[65415,23.4],[65415,38.9],[65514,39.9],[65615,36.8],[65415,46.0],[65514,44.0],[65565,54.3],[65615,52.2],[65615,59.4],[65615,71.8],[65514,72.8],[65914,63.5],[65914,41.9],[65914,33.7],[65914,28.6],[65914,25.5],[65962,19.3],[65962,14.2],[65914,11.1],
 [65714,97.4],[65765,95.4],[65813,94.4],[65864,113.9],[65813,99.5],[65864,86.1],[65914,80.0],[65813,114.4],[65813,102.6],[65714,98.5],[65765,94.4],[65813,91.3],[65664,88.2],[65813,86.1],[65864,80.0],[65740,96.5],[65790,98.2],[65760,92.8],[65840,95.8],[65780,100.5],[65800,97.0],
 [65514,73.8],[65565,71.8],[65864,63.5],[65615,60.4],[65565,54.3],[65615,52.2],[65514,46.0],[65565,44.0],[65466,39.9],[65615,37.8],[65317,39.9],[65364,33.7],[65317,29.6],[65415,28.6],[65466,22.4],[65317,18.3],[65364,14.2],[65914,14.2],[65215,11.1],[65415,11.1],[65962,8.0],[66013,6.0],[66112,3.9],[66213,1.9],
 [66250,5.2],[66330,4.4],[66410,3.6],[66490,3.0],[66570,2.5],[66650,2.1],[66730,1.8],[66810,1.6],[66890,1.4],[66970,1.2],[67090,1.1],[67210,0.9],[67330,1.0],[67450,0.7],[67570,0.9],[67690,0.6],[67810,0.8],[67930,1.0],[68050,0.7],[68170,0.9],[68290,0.6],[68410,0.8],[68530,1.0],[68650,0.7],[68770,0.9],[68890,0.6],[69010,0.8],[69130,0.5],[69250,0.9],[69370,0.7],[69490,1.0],[69610,0.6],[69730,0.8],[69850,0.7],[69970,0.9],[70090,0.6],[70210,0.8],[70330,1.0],[70450,0.7],[70570,0.9],
 [70650,2.0],[70699,6.0],[70746,3.9],[70797,7.0],[70720,4.5],[70770,2.5],[70896,0.8],[70850,1.5]
];
const cwcBExtra = [
 [59610,0.7],[59730,1.2],[59850,0.6],[59970,1.0],[60090,1.2],[60210,0.5],[60330,0.9],[60450,1.3],[60570,0.6],[60690,1.1],[60810,0.9],[60930,0.4],[61050,0.8],[61170,1.2],[61290,0.5],[61410,0.9],[61530,1.2],[61650,0.7],[61770,1.1],[61890,0.8],[62010,0.4],[62130,1.1],[62250,0.8],[62370,1.2],[62490,0.7],[62610,1.0],[62730,0.4],[62850,0.9],[62970,1.2],[63090,0.5],[63210,0.9],[63330,0.7],[63450,1.1],[63570,0.9],[63690,1.2],[63810,0.5],[63930,1.0],[64050,0.6],[64170,1.3],[64290,0.7],[64410,1.0],[64530,0.8],[64650,1.3],[64770,1.8],
 [66290,4.8],[66370,3.9],[66450,3.3],[66530,2.8],[66610,2.2],[66690,2.0],[66770,1.6],[66850,1.7],[66930,1.2],[67030,1.4],[67150,0.8],[67270,1.2],[67390,0.8],[67510,1.1],[67630,0.8],[67750,1.1],[67870,0.6],[67990,0.9],[68110,1.2],[68230,0.8],[68350,1.1],[68470,0.6],[68590,0.9],[68710,1.2],[68830,0.7],[68950,1.0],[69070,0.7],[69190,1.1],[69310,0.6],[69430,0.9],[69550,0.8],[69670,1.1],[69790,0.5],[69910,1.0],[70030,0.8],[70150,1.1],[70270,0.6],[70390,0.9],[70510,1.2],[70610,1.5]
];

// ticks and labels
const co2Ticks = [377.5,378,378.5,379,379.5,380,380.5,381,381.5,382,382.5,383,383.5];
const co2Labels = [377.5,379.0,380.5,382.0,383.5];
const o3Ticks = [0,50,100,150,200,250,300,350,400,450,500];
const o3Labels = [0,50,100,200,300,400,500];
const cwcTicksA = [0,1,2,3,4,5,6,7,8,9,10,11];
const cwcLabelsA = [0,1,2,3,4,5,6,7,8,9,10,11];
const cwcTicksB = [0,10,20,30,40,50,60,70,80,90,100,110];
const cwcLabelsB = [0,10,20,30,40,50,60,70,80,90,110];
const xTicksA = [57000,58000,59000,60000,61000,62000,63000,64000,65000,66000,67000,68000,69000,70000,71000,72000,73000,74000];
const xLabelsA = [57000,60000,63000,66000,69000,72000];
const xTicksB = [58000,59000,60000,61000,62000,63000,64000,65000,66000,67000,68000,69000,70000,71000,72000];
const xLabelsB = [58000,61000,64000,67000,70000];
const co2Reference = 379.2;

// ---------- layout ----------
const BLUE = '#3b71be', BLUE_TXT = '#4a84c8', ORANGE = '#f5821f', INK = '#222';

const panels = [
  { title: 'CRAVE 20060127', tag: '(a)', co2: co2A.concat(co2AExtra), o3: o3A, cwc: cwcA.concat(cwcAExtra),
    cwcMax: 11, cwcTicks: cwcTicksA, cwcLabels: cwcLabelsA,
    xDomain: [57000, 74000], xRange: [77.1, 552.4], xTicks: xTicksA, xLabels: xLabelsA,
    frame: { x0: 57.7, x1: 570.7, y0: 41, y1: 438.3 },
    yTop: 55, yBot: 423.3, cwcTop: 70.7, o3AxisX: 113.3,
    titleY: 28, co2LabX: 32.5, co2LabY: 230, o3LabX: 79, o3LabY: 232, cwcLabX: 616, cwcLabY: 230,
    xLabY: 462, gmtY: 485,
    notes: { co2: [254, 115], cwc: [305, 72], o3: [500, 158], tag: [539, 65] } },
  { title: 'CRAVE 20060130', tag: '(b)', co2: co2B.concat(co2BExtra), o3: o3B, cwc: cwcB.concat(cwcBExtra),
    cwcMax: 110, cwcTicks: cwcTicksB, cwcLabels: cwcLabelsB,
    xDomain: [58000, 72000], xRange: [82, 550], xTicks: xTicksB, xLabels: xLabelsB,
    frame: { x0: 51.7, x1: 571, y0: 538, y1: 941.7 },
    yTop: 553.3, yBot: 926.7, cwcTop: 569.3, o3AxisX: 101,
    titleY: 526, co2LabX: 26, co2LabY: 730, o3LabX: 74, o3LabY: 737, cwcLabX: 617, cwcLabY: 733,
    xLabY: 966, gmtY: 987,
    notes: { co2: [290.5, 613], cwc: [365, 576], o3: [471, 657], tag: [537, 561] } }
];

const svg = d3.select('.canvas')
  .append('svg')
    .attr('width', 626)
    .attr('height', 990);

panels.forEach((p, i) => {
  const f = p.frame;
  const g = svg.append('g');

  const x = d3.scaleLinear().domain(p.xDomain).range(p.xRange);
  const yCO2 = d3.scaleLinear().domain([377.5, 383.5]).range([p.yBot, p.yTop]);
  const yO3 = d3.scaleLinear().domain([0, 500]).range([p.yBot, p.yTop]);
  const yCWC = d3.scaleLinear().domain([0, p.cwcMax]).range([p.yBot, p.cwcTop]);

  // title
  g.append('text')
    .attr('x', 309).attr('y', p.titleY)
    .attr('text-anchor', 'middle')
    .attr('font-size', 18.5).attr('fill', INK)
    .text(p.title);

  // clip for data
  svg.append('clipPath').attr('id', 'clip' + i)
    .append('rect')
      .attr('x', f.x0).attr('y', f.y0)
      .attr('width', f.x1 - f.x0).attr('height', f.y1 - f.y0);

  // reference dotted line
  g.append('line')
    .attr('x1', f.x0).attr('x2', f.x1)
    .attr('y1', yCO2(co2Reference)).attr('y2', yCO2(co2Reference))
    .attr('stroke', '#666').attr('stroke-width', 1)
    .attr('stroke-dasharray', '1,2.4');

  const data = g.append('g').attr('clip-path', `url(#clip${i})`);

  // CO2 dots
  data.append('g').selectAll('circle')
    .data(p.co2)
    .enter().append('circle')
      .attr('cx', d => x(d[0]))
      .attr('cy', d => yCO2(d[1]))
      .attr('r', 1.8)
      .attr('fill', '#1a1a1a');

  // ozone line
  const line = d3.line().x(d => x(d[0])).y(d => yO3(d[1]));
  data.append('path')
    .datum(p.o3)
    .attr('d', line)
    .attr('fill', 'none')
    .attr('stroke', BLUE)
    .attr('stroke-width', 1.2)
    .attr('stroke-linejoin', 'round');

  // CWC crosses
  data.append('g').selectAll('path')
    .data(p.cwc)
    .enter().append('path')
      .attr('transform', d => `translate(${x(d[0])},${yCWC(d[1])})`)
      .attr('d', 'M-4,0H4M0,-4V4')
      .attr('stroke', ORANGE)
      .attr('stroke-width', 1.1)
      .attr('fill', 'none');

  // frame
  g.append('rect')
    .attr('x', f.x0).attr('y', f.y0)
    .attr('width', f.x1 - f.x0).attr('height', f.y1 - f.y0)
    .attr('fill', 'none').attr('stroke', '#3a3a3a').attr('stroke-width', 1.3);

  // x axis (ticks inward)
  const xAxis = g.append('g')
    .attr('transform', `translate(0,${f.y1})`)
    .call(d3.axisBottom(x).tickValues(p.xTicks).tickSize(-7).tickFormat(''));
  xAxis.select('.domain').remove();
  xAxis.selectAll('line').attr('stroke', '#222');

  g.selectAll('.xlab')
    .data(p.xLabels)
    .enter().append('text')
      .attr('x', d => x(d) - 2)
      .attr('y', p.xLabY)
      .attr('text-anchor', 'middle')
      .attr('font-size', 17.5).attr('fill', INK)
      .text(d => d);

  g.append('text')
    .attr('x', 312).attr('y', p.gmtY)
    .attr('text-anchor', 'middle')
    .attr('font-size', 18.5).attr('fill', INK)
    .text('GMT (s)');

  // CO2 axis (left, ticks inward)
  const co2Axis = g.append('g')
    .attr('transform', `translate(${f.x0},0)`)
    .call(d3.axisLeft(yCO2).tickValues(co2Ticks).tickSize(-8).tickFormat(''));
  co2Axis.select('.domain').remove();
  co2Axis.selectAll('line').attr('stroke', '#222');

  g.selectAll('.co2lab')
    .data(co2Labels)
    .enter().append('text')
      .attr('transform', d => `translate(${f.x0 - 1.5},${yCO2(d)}) rotate(-90)`)
      .attr('text-anchor', 'middle')
      .attr('font-size', 16.5).attr('fill', INK)
      .text(d => d3.format('.1f')(d));

  g.append('text')
    .attr('transform', `translate(${p.co2LabX},${p.co2LabY}) rotate(-90)`)
    .attr('text-anchor', 'middle')
    .attr('font-size', 18).attr('fill', INK)
    .text('CO2 [ppmv]');

  // ozone axis
  const o3Axis = g.append('g')
    .attr('transform', `translate(${p.o3AxisX},0)`)
    .call(d3.axisLeft(yO3).tickValues(o3Ticks).tickSize(8).tickSizeOuter(0).tickFormat(''));
  o3Axis.select('.domain').attr('stroke', BLUE).attr('stroke-width', 1.3);
  o3Axis.selectAll('line').attr('stroke', BLUE).attr('stroke-width', 1.2);

  g.selectAll('.o3lab')
    .data(o3Labels)
    .enter().append('text')
      .attr('transform', d => `translate(${p.o3AxisX - 13},${yO3(d)}) rotate(-90)`)
      .attr('text-anchor', 'middle')
      .attr('font-size', 14).attr('fill', BLUE_TXT)
      .text(d => d);

  g.append('text')
    .attr('transform', `translate(${p.o3LabX},${p.o3LabY}) rotate(-90)`)
    .attr('text-anchor', 'middle')
    .attr('font-size', 16.5).attr('fill', BLUE_TXT)
    .text('Ozone [ppbv]');

  // CWC axis (right)
  const cwcAxis = g.append('g')
    .attr('transform', `translate(${f.x1},0)`)
    .call(d3.axisRight(yCWC).tickValues(p.cwcTicks).tickSize(8).tickSizeOuter(0).tickFormat(''));
  cwcAxis.select('.domain').attr('stroke', ORANGE).attr('stroke-width', 1.3);
  cwcAxis.selectAll('line').attr('stroke', ORANGE).attr('stroke-width', 1.2);

  g.selectAll('.cwclab')
    .data(p.cwcLabels)
    .enter().append('text')
      .attr('transform', d => `translate(${f.x1 + 31},${yCWC(d)}) rotate(-90)`)
      .attr('text-anchor', 'middle')
      .attr('font-size', 15.5).attr('fill', ORANGE)
      .text(d => d);

  g.append('text')
    .attr('transform', `translate(${p.cwcLabX},${p.cwcLabY}) rotate(-90)`)
    .attr('text-anchor', 'middle')
    .attr('font-size', 17.5).attr('fill', ORANGE)
    .text('Condensed Water Content [mg/m3]');

  // annotations
  const n = p.notes;
  g.append('text').attr('x', n.co2[0]).attr('y', n.co2[1]).attr('text-anchor', 'middle')
    .attr('font-size', 18).attr('fill', INK).text('CO2');
  g.append('text').attr('x', n.cwc[0]).attr('y', n.cwc[1])
    .attr('font-size', 18).attr('fill', ORANGE).text('CWC');
  g.append('text').attr('x', n.o3[0]).attr('y', n.o3[1])
    .attr('font-size', 18).attr('fill', BLUE_TXT).text('O3');
  g.append('text').attr('x', n.tag[0]).attr('y', n.tag[1])
    .attr('font-size', 17).attr('fill', INK).text(p.tag);
});
</script>
</body>
</html>
